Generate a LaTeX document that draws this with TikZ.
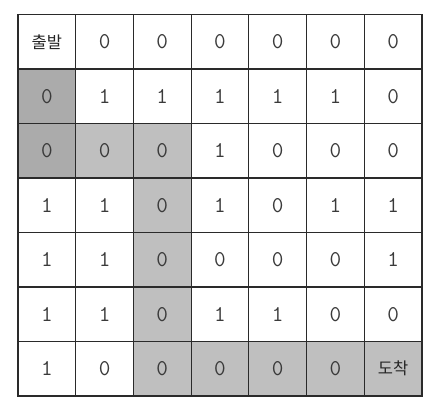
\documentclass[tikz,border=0pt]{standalone}
\usepackage{fontspec}
\newfontfamily\krfont{Noto Sans CJK KR}
\definecolor{darkcell}{HTML}{ABABAB}
\definecolor{lightcell}{HTML}{BFBFBF}
\definecolor{gridline}{HTML}{2A2A2A}
\definecolor{digitcol}{HTML}{3A3A3A}
\newcommand{\krlabel}[1]{{\krfont\fontsize{16.5}{16.5}\selectfont\color{black!85}#1}}
\begin{document}
\begin{tikzpicture}[x=1pt,y=1pt,
  cellbase/.style={draw=gridline, line width=1.2pt, minimum width=57.7pt, minimum height=54.5pt,
    inner sep=0pt, outer sep=0pt, text=digitcol, font=\ttfamily\fontsize{22.5}{22.5}\selectfont},
  cellw/.style={cellbase, fill=white},
  cellg/.style={cellbase, fill=lightcell},
  celld/.style={cellbase, fill=darkcell}]
\useasboundingbox (0,0) rectangle (434,-410);
\foreach \rowvals [count=\r from 0] in {
  {{\krlabel{출발}}/cellw,0/cellw,0/cellw,0/cellw,0/cellw,0/cellw,0/cellw},
  {0/celld,1/cellw,1/cellw,1/cellw,1/cellw,1/cellw,0/cellw},
  {0/celld,0/cellg,0/cellg,1/cellw,0/cellw,0/cellw,0/cellw},
  {1/cellw,1/cellw,0/cellg,1/cellw,0/cellw,1/cellw,1/cellw},
  {1/cellw,1/cellw,0/cellg,0/cellw,0/cellw,0/cellw,1/cellw},
  {1/cellw,1/cellw,0/cellg,1/cellw,1/cellw,0/cellw,0/cellw},
  {1/cellw,0/cellw,0/cellg,0/cellg,0/cellg,0/cellg,{\krlabel{도착}}/cellg}}
{
  \foreach \t/\s [count=\c from 0] in \rowvals {
    \node[\s] (c\r\c) at ({18+57.7*(\c+0.5)}, {-(14.5+54.5*(\r+0.5))}) {\t};
  }
}
\end{tikzpicture}
\end{document}
